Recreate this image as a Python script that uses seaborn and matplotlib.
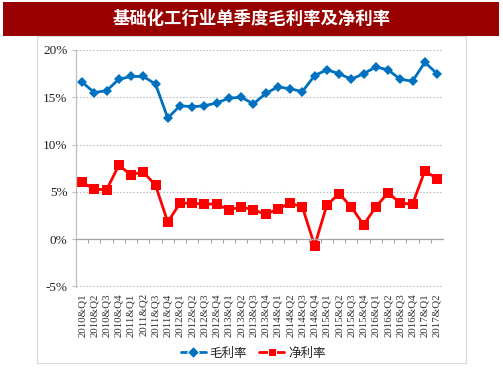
import matplotlib
matplotlib.use("Agg")
import matplotlib.pyplot as plt
import numpy as np
import pandas as pd
import seaborn as sns
from matplotlib.patches import Rectangle

TITLE = "基础化工行业单季度毛利率及净利率"
quarters = [f"{y}&Q{q}" for y in range(2010, 2018) for q in range(1, 5)][:30]
gross = [16.6, 15.5, 15.7, 16.9, 17.2, 17.2, 16.4, 12.8, 14.1, 14.0,
         14.1, 14.4, 14.9, 15.0, 14.3, 15.4, 16.1, 15.9, 15.6, 17.3,
         17.9, 17.5, 16.9, 17.5, 18.2, 17.9, 16.9, 16.7, 18.7, 17.5]
net = [6.0, 5.3, 5.2, 7.8, 6.8, 7.1, 5.7, 1.8, 3.8, 3.8,
       3.7, 3.7, 3.1, 3.4, 3.1, 2.6, 3.2, 3.8, 3.4, -0.7,
       3.6, 4.8, 3.4, 1.5, 3.4, 4.9, 3.8, 3.7, 7.2, 6.4]
series = ["毛利率", "净利率"]
yticks = [-5, 0, 5, 10, 15, 20]
ytick_labels = [f"{v}%" for v in yticks]

CJK = ["Noto Sans CJK SC", "DejaVu Sans"]
SERIF = ["Liberation Serif", "DejaVu Serif"]
GREY = "#bfbfbf"

df = pd.DataFrame({
    "quarter": quarters * 2,
    "value": gross + net,
    "series": [series[0]] * len(gross) + [series[1]] * len(net),
})

sns.set_theme(style="white")
plt.rcParams["font.family"] = CJK

fig = plt.figure(figsize=(5.03, 3.78), dpi=100)
# title bar
fig.patches.append(Rectangle((0.006, 0.905), 0.986, 0.09, transform=fig.transFigure,
                             facecolor="#990000", edgecolor="none", zorder=0))
fig.text(0.5, 0.951, TITLE, color="white", ha="center", va="center",
         fontsize=12.5, fontweight="bold", family=CJK)
# light frame of chart area
fig.patches.append(Rectangle((0.074, 0.04), 0.853, 0.865, transform=fig.transFigure,
                             facecolor="none", edgecolor="#d9d9d9", linewidth=0.8, zorder=0))

ax = fig.add_axes([0.151, 0.240, 0.730, 0.629])
ax.set_facecolor("none")
sns.lineplot(data=df, x="quarter", y="value", hue="series", style="series",
             palette={"毛利率": "#0070C0", "净利率": "#FF0000"},
             markers={"毛利率": "D", "净利率": "s"}, dashes=False,
             linewidth=2, sort=False, ax=ax)
for ln, ms in zip(ax.lines[:2], [5, 7]):
    ln.set_markersize(ms)
    ln.set_markeredgewidth(0)

ax.set_xlim(-0.5, len(quarters) - 0.5)
ax.set_ylim(-5.1, 20.05)  # small margin so the -5% / 20% grid lines stay visible
ax.set_yticks(yticks, ytick_labels)
ax.yaxis.grid(True, linestyle=(0, (1.5, 1.5)), color=GREY, linewidth=0.8)
ax.xaxis.grid(False)

# x axis line at 0%, labels pushed below the plot
for s in ["top", "right"]:
    ax.spines[s].set_visible(False)
ax.spines["left"].set_color(GREY)
ax.spines["left"].set_linewidth(0.9)
ax.spines["bottom"].set_position(("data", 0))
ax.spines["bottom"].set_color("#a6a6a6")
ax.spines["bottom"].set_linewidth(0.9)
ax.set_xticks(range(len(quarters)), quarters)
ax.set_xticks(np.arange(0.5, len(quarters) - 0.5, 1), minor=True)
ax.tick_params(axis="x", which="major", length=0, pad=39, labelsize=7.8,
               rotation=90, colors="#333333")
ax.tick_params(axis="x", which="minor", bottom=True, length=3, width=0.8, color="#a6a6a6")
ax.tick_params(axis="y", left=True, length=3, width=0.8, color=GREY, labelsize=9.5,
               colors="#222222", pad=3)
for lab in ax.get_xticklabels() + ax.get_yticklabels():
    lab.set_family(SERIF)
for lab in ax.get_xticklabels():
    lab.set_va("top")

ax.set_xlabel("")
ax.set_ylabel("")

handles, labels = ax.get_legend_handles_labels()
ax.legend(handles, labels, loc="center", bbox_to_anchor=(0.503, 0.066),
          bbox_transform=fig.transFigure, ncol=2, frameon=False,
          prop={"family": CJK, "size": 9}, handlelength=2.0, columnspacing=1.0,
          handletextpad=0.3)

fig.savefig("out.png", dpi=100)
